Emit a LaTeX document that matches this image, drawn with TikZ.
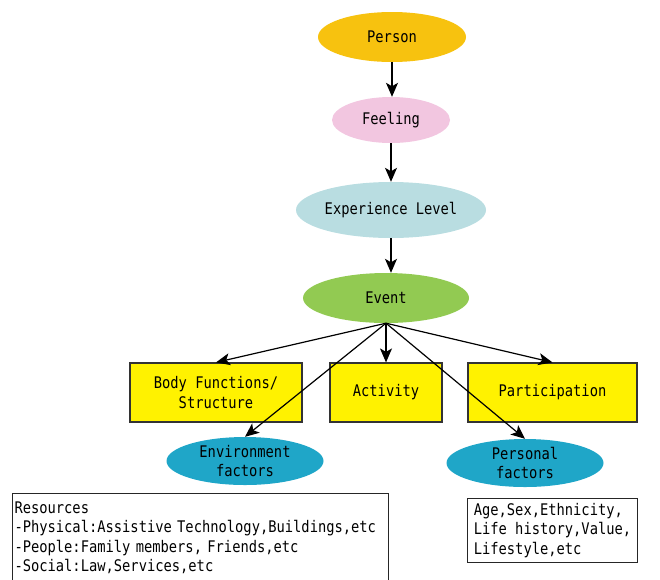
\documentclass[tikz,border=0pt]{standalone}
\usepackage{fontspec}
\setmainfont[FakeStretch=0.86]{DejaVu Sans Mono}
\usetikzlibrary{arrows.meta,positioning,shapes.geometric}
\definecolor{personc}{RGB}{247,194,15}
\definecolor{feelc}{RGB}{242,198,224}
\definecolor{expc}{RGB}{185,221,225}
\definecolor{eventc}{RGB}{146,202,82}
\definecolor{factc}{RGB}{31,166,200}
\begin{document}
\begin{tikzpicture}[x=1pt,y=-1pt, font=\fontsize{16}{19.5}\selectfont, oval/.style={ellipse,inner sep=0pt,align=center}, ybox/.style={draw=black!80,line width=1.2pt,fill=yellow,inner sep=0pt,minimum height=59pt,align=center}, tbox/.style={draw=black!85,line width=1pt,align=left,anchor=north west,inner sep=2pt}, link/.style={-{Stealth[length=14pt,width=12pt,inset=3.5pt]},line width=1.2pt}]
\useasboundingbox (0,0) rectangle (660,579);
\node[oval, fill=personc, minimum width=148pt, minimum height=50pt] (person) at (392,37) {Person};
\node[oval, fill=feelc, minimum width=118pt, minimum height=46pt] (feeling) at (391,120) {Feeling};
\node[oval, fill=expc, minimum width=190pt, minimum height=56pt] (exp) at (391,210) {Experience Level};
\node[oval, fill=eventc, minimum width=166pt, minimum height=50pt] (event) at (386,298) {Event};
\node[ybox, minimum width=172pt] (body) at (216,392.5) {Body Functions/\\Structure};
\node[ybox, minimum width=112pt] (activity) at (386,392.5) {Activity};
\node[ybox, minimum width=169pt] (particip) at (552.5,392.5) {Participation};
\node[oval, fill=factc, minimum width=157pt, minimum height=48pt] (envir) at (245,461) {Environment\\factors};
\node[oval, fill=factc, minimum width=157pt, minimum height=48pt] (personal) at (525,463) {Personal\\factors};
\node[tbox, text width=372pt, inner ysep=8pt] (resources) at (12,493) {Resources\\-Physical:Assistive Technology,Buildings,etc\\-People:Family members, Friends,etc\\-Social:Law,Services,etc};
\node[tbox, minimum width=170pt, minimum height=64pt, inner sep=4pt] (ptext) at (467,498) {Age,Sex,Ethnicity,\\Life history,Value,\\Lifestyle,etc};
% arrows
\draw[link] (person.south) -- (person.south |- feeling.north);
\draw[link] (feeling) -- (exp);
\draw[link] (exp.south) -- (exp.south |- event.north);
\coordinate (fan) at (event.south);
\foreach \t in {body,activity,particip,envir,personal} \draw[link] (fan) -- (\t.north);
\end{tikzpicture}
\end{document}
